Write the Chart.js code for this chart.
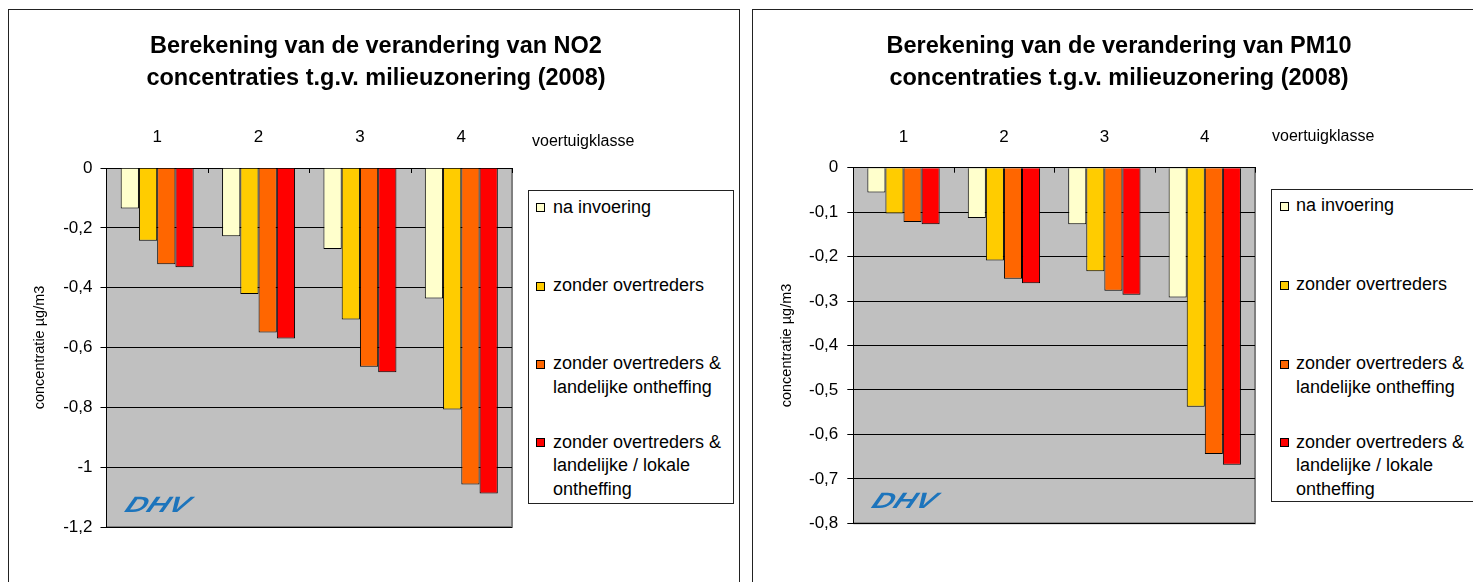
<!DOCTYPE html>
<html>
<head>
<meta charset="utf-8">
<script src="https://cdn.jsdelivr.net/npm/chart.js@4.4.0/dist/chart.umd.min.js"></script>
<style>
  html, body { margin: 0; padding: 0; background: #fff; overflow: hidden; width: 1473px; height: 582px; }
  body { position: relative; font-family: "Liberation Sans", Arial, sans-serif; }
  .frame { position: absolute; top: 9px; height: 600px; border: 1.5px solid #222; box-sizing: border-box; }
  canvas { position: absolute; top: 0; }
  .title { position: absolute; top: 29px; width: 640px; text-align: center; font-size: 23.5px; font-weight: bold; line-height: 32px; color: #000; white-space: nowrap; }
  .legend { position: absolute; border: 1px solid #222; background: #fff; box-sizing: border-box; }
  .legend .item { position: absolute; font-size: 18px; line-height: 23.5px; color: #000; white-space: nowrap; }
  .legend .sw { position: absolute; top: 7.5px; width: 7px; height: 7px; border: 1px solid #000; }
  .legend .txt { position: absolute; top: 0; }
  .klasse { position: absolute; font-size: 16px; line-height: 18px; color: #000; }
</style>
</head>
<body>
<div class="frame" style="left:8px; width:732px;"></div>
<div class="frame" style="left:752px; width:760px;"></div>
<canvas id="no2Chart" width="734" height="582" style="left:9px;"></canvas>
<canvas id="pm10Chart" width="731" height="582" style="left:753px;"></canvas>
<div class="title" id="no2Title" style="left:56px;"></div>
<div class="title" id="pm10Title" style="left:799px;"></div>
<div class="klasse" style="left:532px; top:132px;">voertuigklasse</div>
<div class="klasse" style="left:1272px; top:127px;">voertuigklasse</div>
<div class="legend" id="no2Legend" style="left:528px; top:190px; width:206px; height:314px;"></div>
<div class="legend" id="pm10Legend" style="left:1271px; top:189px; width:240px; height:313px;"></div>

<script>
const categories = ['1', '2', '3', '4'];
const seriesNames = [
  'na invoering',
  'zonder overtreders',
  'zonder overtreders & landelijke ontheffing',
  'zonder overtreders & landelijke / lokale ontheffing'
];
const legendLines = [
  ['na invoering'],
  ['zonder overtreders'],
  ['zonder overtreders &', 'landelijke ontheffing'],
  ['zonder overtreders &', 'landelijke / lokale', 'ontheffing']
];
const seriesColors = ['#FFFFCC', '#FFCC00', '#FF6600', '#FF0000'];

/* NO2 (µg/m3) */
const no2Title = ['Berekening van de verandering van NO2', 'concentraties t.g.v. milieuzonering (2008)'];
const no2NaInvoering = [-0.135, -0.228, -0.271, -0.436];
const no2ZonderOvertreders = [-0.243, -0.421, -0.506, -0.807];
const no2Landelijk = [-0.322, -0.550, -0.664, -1.058];
const no2LandelijkLokaal = [-0.332, -0.570, -0.683, -1.088];
const no2Ticks = [0, -0.2, -0.4, -0.6, -0.8, -1, -1.2];

/* PM10 (µg/m3) */
const pm10Title = ['Berekening van de verandering van PM10', 'concentraties t.g.v. milieuzonering (2008)'];
const pm10NaInvoering = [-0.056, -0.113, -0.127, -0.292];
const pm10ZonderOvertreders = [-0.103, -0.209, -0.233, -0.538];
const pm10Landelijk = [-0.122, -0.250, -0.277, -0.644];
const pm10LandelijkLokaal = [-0.127, -0.260, -0.286, -0.668];
const pm10Ticks = [0, -0.1, -0.2, -0.3, -0.4, -0.5, -0.6, -0.7, -0.8];

Chart.defaults.font.family = '"Liberation Sans", Arial, sans-serif';
Chart.defaults.color = '#000';

const fmt = v => String(Math.round(v * 10) / 10).replace('.', ',');

/* grey plot area, category ticks and the DHV logo */
const plotFrame = {
  id: 'plotFrame',
  beforeDraw(chart) {
    const { ctx, chartArea: a } = chart;
    ctx.save();
    ctx.fillStyle = '#C0C0C0';
    ctx.fillRect(a.left, a.top, a.right - a.left, a.bottom - a.top);
    ctx.strokeStyle = '#808080';
    ctx.lineWidth = 2;
    ctx.beginPath();
    ctx.moveTo(a.right, a.top);
    ctx.lineTo(a.right, a.bottom);
    ctx.lineTo(a.left, a.bottom);
    ctx.stroke();
    ctx.restore();
  },
  beforeDatasetsDraw(chart) {
    const { ctx, chartArea: a } = chart;
    ctx.save();
    ctx.translate(a.left + 17, a.bottom - 15);
    ctx.transform(1.35, 0, -0.45, 1, 0, 0);
    ctx.font = 'italic bold 22px "Liberation Sans", Arial, sans-serif';
    ctx.fillStyle = '#1C74BC';
    ctx.fillText('DHV', 0, 0);
    ctx.restore();
  },
  afterDraw(chart) {
    const { ctx } = chart;
    const xs = chart.scales.x;
    const w = (xs.right - xs.left) / categories.length;
    ctx.save();
    ctx.strokeStyle = '#000';
    ctx.lineWidth = 1;
    ctx.beginPath();
    for (let i = 1; i <= categories.length; i++) {
      const x = Math.round(xs.left + i * w) + 0.5;
      ctx.moveTo(x, xs.bottom);
      ctx.lineTo(x, xs.bottom + 5);
    }
    ctx.stroke();
    ctx.restore();
  }
};

function makeChart(id, cfg) {
  return new Chart(document.getElementById(id), {
    type: 'bar',
    data: {
      labels: categories,
      datasets: cfg.series.map((vals, i) => ({
        label: seriesNames[i],
        data: vals,
        backgroundColor: seriesColors[i],
        borderColor: '#000',
        borderWidth: 1,
        categoryPercentage: 0.72,
        barPercentage: 1
      }))
    },
    options: {
      responsive: false,
      animation: false,
      devicePixelRatio: 1,
      layout: { padding: cfg.pad, autoPadding: false },
      plugins: {
        legend: { display: false },
        tooltip: { enabled: false },
        title: { display: false }
      },
      scales: {
        x: {
          position: 'top',
          grid: { display: false, drawTicks: false },
          border: { color: '#000', width: 1 },
          ticks: { color: '#000', font: { size: 17 }, padding: 20 },
          afterFit: s => { s.height = cfg.xHeight; }
        },
        y: {
          min: cfg.ticks[cfg.ticks.length - 1],
          max: 0,
          afterBuildTicks: s => { s.ticks = cfg.ticks.map(v => ({ value: v })); },
          grid: { color: '#000', lineWidth: 1, tickLength: 6 },
          border: { color: '#000', width: 1 },
          ticks: { color: '#000', font: { size: 17 }, padding: cfg.tickPad, callback: v => fmt(v) },
          title: {
            display: true,
            text: 'concentratie µg/m3',
            color: '#000',
            font: { size: 14.5 },
            padding: { top: 4, bottom: 4 }
          },
          afterFit: s => { s.width = cfg.yWidth; }
        }
      }
    },
    plugins: [plotFrame]
  });
}

function makeLegend(id, firstCenter, step, swLeft, txtLeft) {
  const box = document.getElementById(id);
  legendLines.forEach((lines, i) => {
    const item = document.createElement('div');
    item.className = 'item';
    item.style.left = swLeft + 'px';
    item.style.top = (firstCenter - 11.75 + i * step) + 'px';
    item.innerHTML = `<div class="sw" style="left:0; background:${seriesColors[i]}"></div>` +
      `<div class="txt" style="left:${txtLeft - swLeft}px">${lines.map(l => l.replace('&', '&amp;')).join('<br>')}</div>`;
    box.appendChild(item);
  });
}

function setTitle(id, lines) {
  document.getElementById(id).innerHTML = lines.join('<br>');
}

setTitle('no2Title', no2Title);
setTitle('pm10Title', pm10Title);

makeChart('no2Chart', {
  series: [no2NaInvoering, no2ZonderOvertreders, no2Landelijk, no2LandelijkLokaal],
  ticks: no2Ticks,
  pad: { left: 18.6, right: 231, top: 93, bottom: 55 },
  yWidth: 78.9,
  xHeight: 75,
  tickPad: 8
});

makeChart('pm10Chart', {
  series: [pm10NaInvoering, pm10ZonderOvertreders, pm10Landelijk, pm10LandelijkLokaal],
  ticks: pm10Ticks,
  pad: { left: 21.6, right: 229, top: 93, bottom: 58.7 },
  yWidth: 78.7,
  xHeight: 74.7,
  tickPad: 9
});

makeLegend('no2Legend', 16.5, 78.3, 7, 24);
makeLegend('pm10Legend', 16, 78.9, 8, 24);
</script>
</body>
</html>
